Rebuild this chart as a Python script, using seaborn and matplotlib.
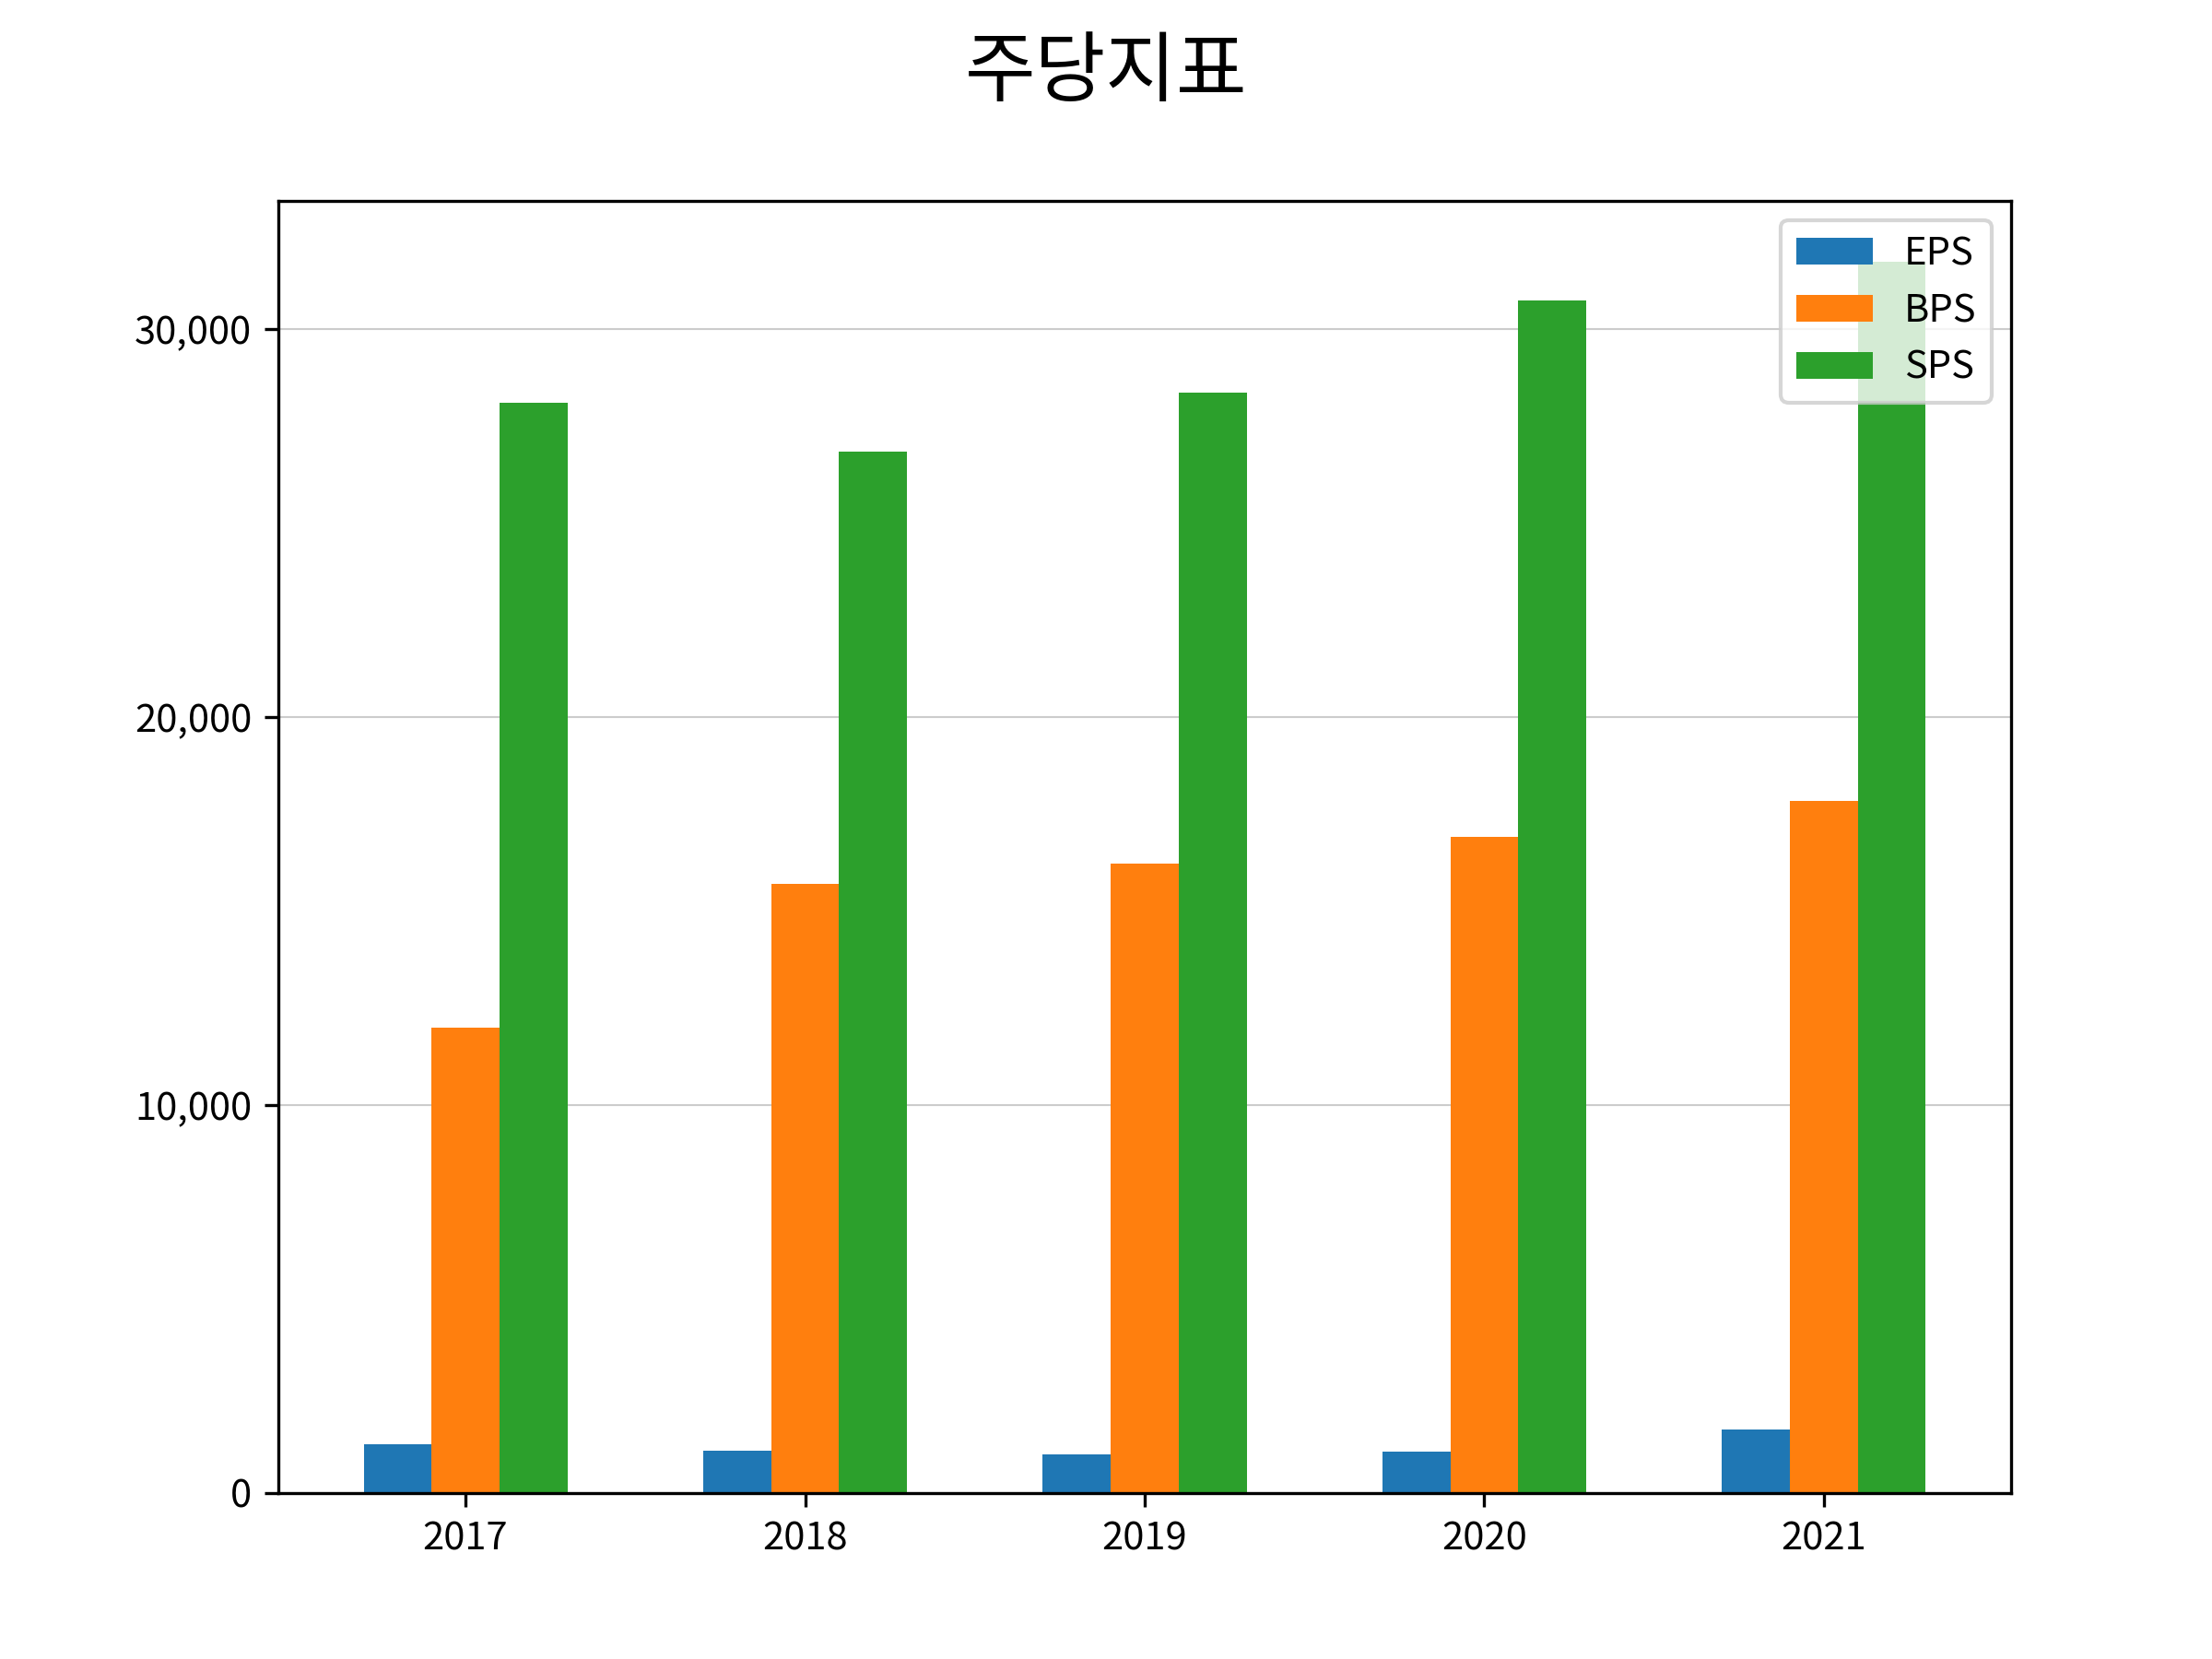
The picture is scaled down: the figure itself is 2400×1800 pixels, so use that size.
import pandas as pd
import matplotlib
matplotlib.use("Agg")
import matplotlib.pyplot as plt
import matplotlib.ticker as mticker
import seaborn as sns

years = ["2017", "2018", "2019", "2020", "2021"]
eps = [1250, 1100, 990, 1070, 1650]
bps = [12000, 15700, 16210, 16910, 17830]
sps = [28090, 26840, 28350, 30735, 31730]

plt.rcParams["font.family"] = "Noto Sans CJK KR"

df = pd.DataFrame({"year": years, "EPS": eps, "BPS": bps, "SPS": sps})
long = df.melt(id_vars="year", var_name="metric", value_name="value")

fig, ax = plt.subplots(figsize=(8, 6), dpi=300)
sns.barplot(data=long, x="year", y="value", hue="metric", width=0.6,
            palette=["#1f77b4", "#ff7f0e", "#2ca02c"], saturation=1,
            errorbar=None, ax=ax, zorder=2)
ax.grid(axis="y", color="#cccccc", linewidth=0.5, zorder=0)
ax.set_axisbelow(True)
ax.yaxis.set_major_locator(mticker.MultipleLocator(10000))
ax.yaxis.set_major_formatter(mticker.StrMethodFormatter("{x:,.0f}"))
ax.set_xlabel("")
ax.set_ylabel("")
ax.set_xlim(-0.55, 4.55)
ax.set_ylim(0, 33300)
ax.legend(loc="upper right", title=None)
fig.suptitle("주당지표", fontsize=20)
fig.subplots_adjust(left=0.126, right=0.909, top=0.879, bottom=0.1)
fig.savefig("out.png", dpi=300)
